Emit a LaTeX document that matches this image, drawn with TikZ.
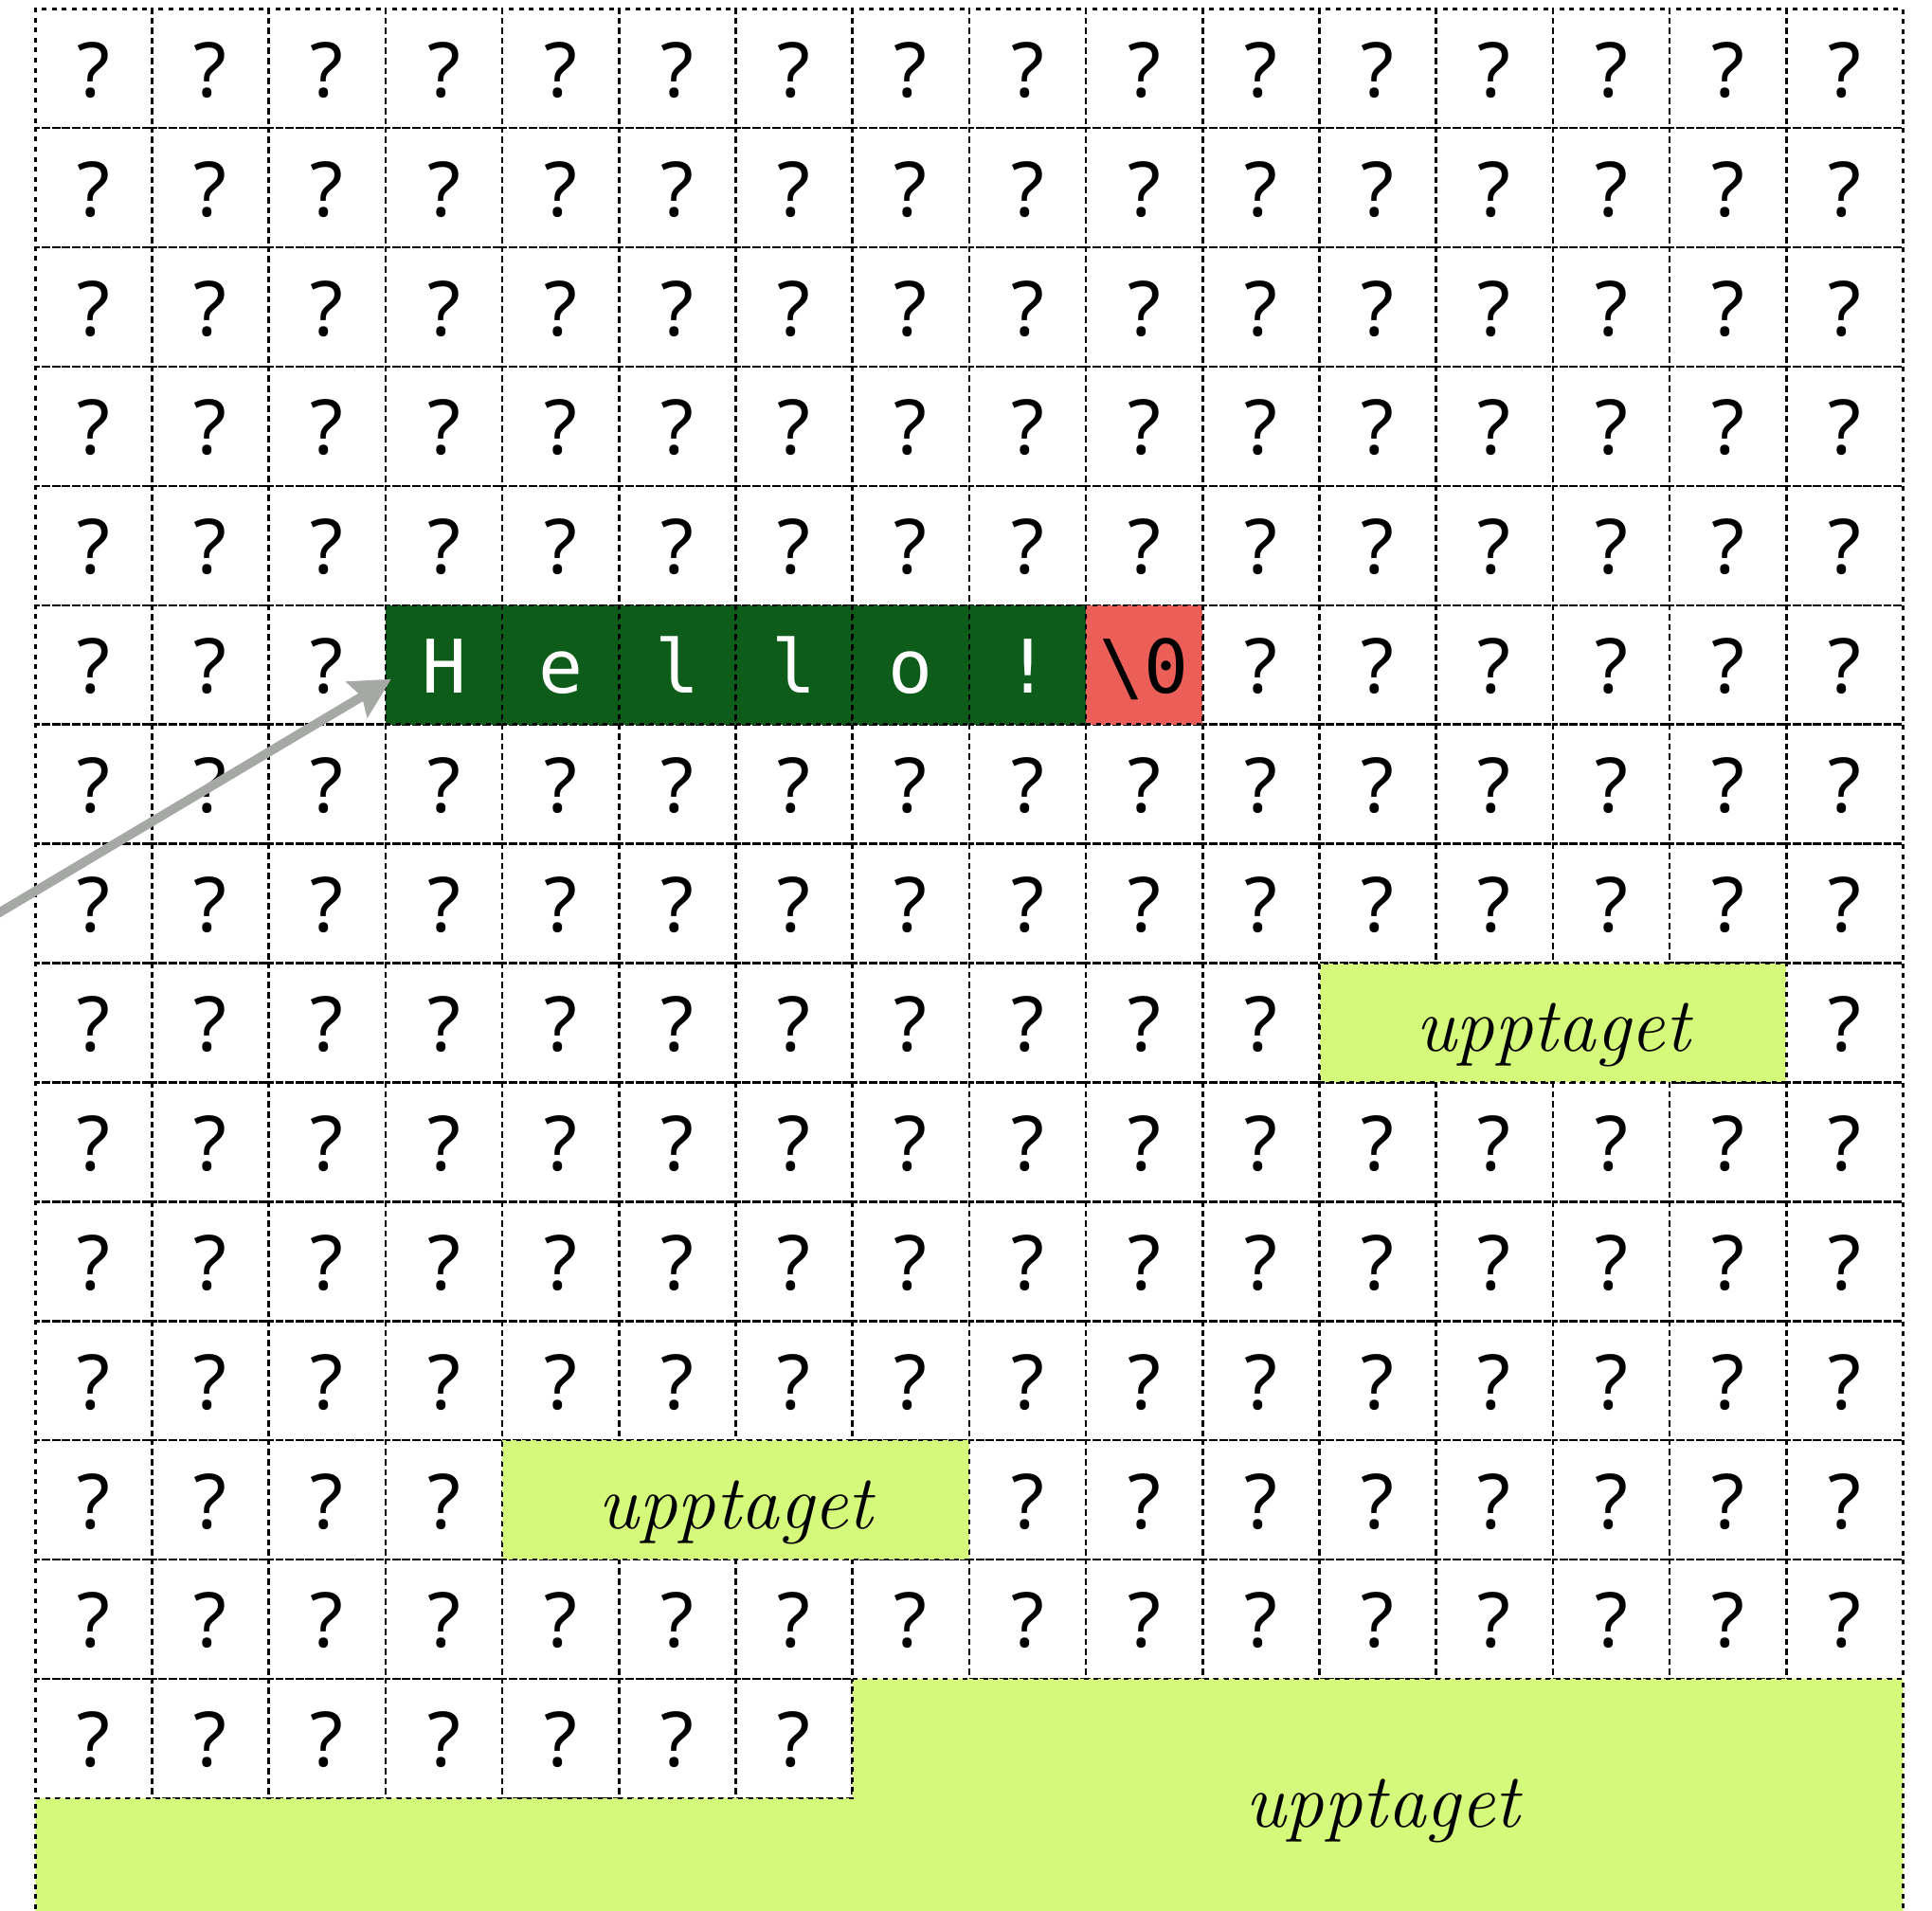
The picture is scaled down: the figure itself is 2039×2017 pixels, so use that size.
\documentclass[tikz,border=0pt]{standalone}
\usepackage{fontspec}
\newfontfamily\qfont{Noto Sans}
\newfontfamily\hellofont{DejaVu Sans Mono}
\usetikzlibrary{arrows.meta}
\definecolor{dkgreen}{HTML}{0E5C1A}
\definecolor{redcell}{HTML}{EC5E58}
\definecolor{ltgreen}{HTML}{D5FA7B}
\definecolor{arrowgray}{HTML}{A5A8A5}
\begin{document}
\begin{tikzpicture}[x=0.5pt,y=-0.5pt,
  dashline/.style={draw=black, dash pattern=on 2.5pt off 2.8pt, line width=1.3pt},
  cell/.style={dashline, minimum width=61.6pt, minimum height=62.95pt,
    inner sep=0pt, outer sep=0pt, text height=30pt, text depth=0pt,
    font=\qfont\fontsize{40pt}{48pt}\selectfont},
  hello/.style={cell, fill=dkgreen, text=white, font=\hellofont\fontsize{39pt}{47pt}\selectfont},
  nul/.style={cell, fill=redcell, text=black, font=\hellofont\fontsize{39pt}{47pt}\selectfont},
  used/.style={cell, fill=ltgreen, minimum width=246.4pt,
    font=\rmfamily\itshape\fontsize{40.5pt}{48pt}\selectfont},
  biglabel/.style={inner sep=0pt, text height=30pt, text depth=0pt,
    font=\rmfamily\itshape\fontsize{40.5pt}{48pt}\selectfont},
  pointer/.style={draw=arrowgray, line width=4.8pt,
    -{Stealth[length=21pt,width=21.5pt,inset=3pt]}}]
\useasboundingbox (0,0) rectangle (2039,2017);
\clip (0,0) rectangle (2039,2017);

% plain unknown cells
\foreach \r in {0,1,2,3,4,6,7,9,10,11,13}
  \foreach \c in {0,...,15}
    \node[cell] (c-\r-\c) at ({37.3+123.2*(\c+0.5)},{9.3+125.9*(\r+0.5)}) {?};
\foreach \c in {0,1,2,10,11,12,13,14,15}
  \node[cell] (c-5-\c) at ({37.3+123.2*(\c+0.5)},{9.3+125.9*5.5}) {?};
\foreach \c in {0,...,10,15}
  \node[cell] (c-8-\c) at ({37.3+123.2*(\c+0.5)},{9.3+125.9*8.5}) {?};
\foreach \c in {0,1,2,3,8,9,10,11,12,13,14,15}
  \node[cell] (c-12-\c) at ({37.3+123.2*(\c+0.5)},{9.3+125.9*12.5}) {?};
\foreach \c in {0,...,6}
  \node[cell] (c-14-\c) at ({37.3+123.2*(\c+0.5)},{9.3+125.9*14.5}) {?};

% the string
\foreach \c/\t in {3/H,4/e,5/l,6/l,7/o,8/!}
  \node[hello] (c-5-\c) at ({37.3+123.2*(\c+0.5)},{9.3+125.9*5.5}) {\t};
\node[nul] (c-5-9) at ({37.3+123.2*9.5},{9.3+125.9*5.5}) {\textbackslash 0};

% occupied blocks
\node[used] (used1) at ({37.3+123.2*13},{9.3+125.9*8.5}) {upptaget};
\node[used] (used2) at ({37.3+123.2*6},{9.3+125.9*12.5}) {upptaget};

\filldraw[fill=ltgreen, dashline]
  (899.7,1771.9) -- (2008.5,1771.9) -- (2008.5,2150) -- (37.3,2150)
  -- (37.3,1897.8) -- (899.7,1897.8) -- cycle;
\node[biglabel] (used3) at (1459,1898) {upptaget};

% pointer
\coordinate (ptr) at (-200,1082);
\draw[pointer] (ptr) -- ([xshift=3pt,yshift=-7.5pt]c-5-3.west);
\end{tikzpicture}
\end{document}
